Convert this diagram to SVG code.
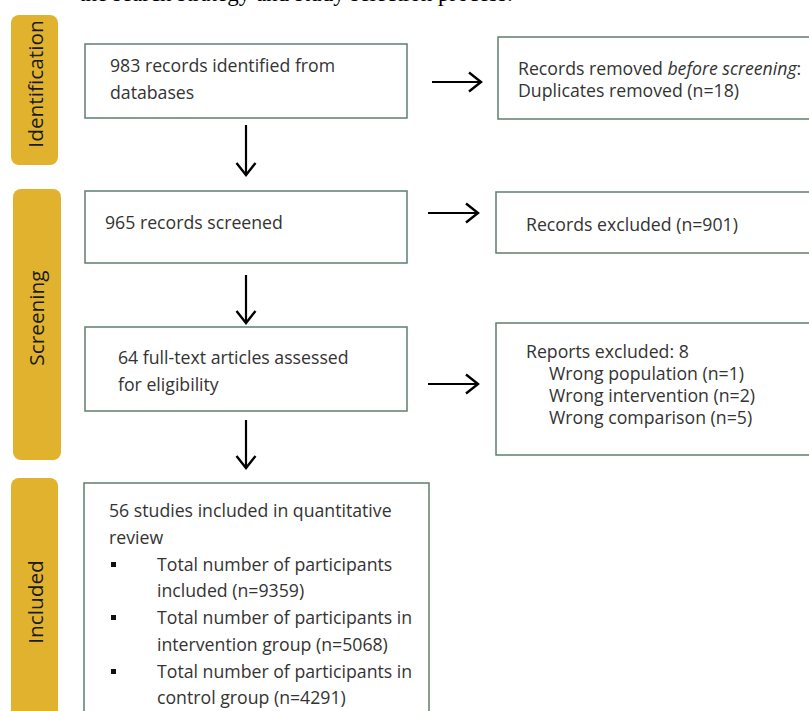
<svg xmlns="http://www.w3.org/2000/svg" width="809" height="711" viewBox="0 0 809 711">
<style>
.bar{fill:#E1B22E;}
.lab{font-family:"Open Sans","Liberation Sans",sans-serif;font-size:20.8px;fill:#1a1a1a;text-anchor:middle;}
.box{fill:#fff;stroke:#5e7f6d;stroke-width:1.5;}
.t{font-family:"Open Sans","Liberation Sans",sans-serif;font-size:17.7px;fill:#333;}
.c{stroke:#000;stroke-width:2.2;fill:none;}
</style>
<defs>
<marker id="ah" markerUnits="userSpaceOnUse" markerWidth="20" markerHeight="24" viewBox="-14 -12 16 24" refX="0" refY="0" orient="auto">
<path d="M-12,-9.5 L0,0 L-12,9.5" fill="none" stroke="#000" stroke-width="2.4"/>
</marker>
</defs>
<rect width="809" height="711" fill="#fff"/>
<text x="79" y="0.5" font-family="'Liberation Serif',serif" font-size="23" fill="#000">the search strategy and study selection process.</text>

<g id="phase-identification">
<rect class="bar" x="11" y="15" width="47" height="150" rx="8"/>
<text class="lab" transform="translate(43,84) rotate(-90)">Identification</text>
</g>
<g id="phase-screening">
<rect class="bar" x="13" y="189" width="48" height="271" rx="8"/>
<text class="lab" transform="translate(44,318) rotate(-90)">Screening</text>
</g>
<g id="phase-included">
<rect class="bar" x="11" y="478" width="47" height="250" rx="8"/>
<text class="lab" transform="translate(43,602) rotate(-90)">Included</text>
</g>

<g id="n-identified">
<rect class="box" x="85" y="44" width="322" height="74"/>
<text class="t" x="110" y="72">983 records identified from</text>
<text class="t" x="110" y="99">databases</text>
</g>
<g id="n-removed">
<rect class="box" x="498" y="37" width="320" height="82"/>
<text class="t" x="518" y="75">Records removed <tspan font-style="italic">before screening</tspan>:</text>
<text class="t" x="518" y="97">Duplicates removed (n=18)</text>
</g>
<g id="n-screened">
<rect class="box" x="85" y="191" width="322" height="72"/>
<text class="t" x="105" y="229">965 records screened</text>
</g>
<g id="n-excluded">
<rect class="box" x="496" y="192" width="320" height="61"/>
<text class="t" x="526" y="231">Records excluded (n=901)</text>
</g>
<g id="n-fulltext">
<rect class="box" x="85" y="327" width="322" height="84"/>
<text class="t" x="118" y="364">64 full-text articles assessed</text>
<text class="t" x="118" y="391">for eligibility</text>
</g>
<g id="n-reports">
<rect class="box" x="496" y="323" width="320" height="132"/>
<text class="t" x="526" y="358">Reports excluded: 8</text>
<text class="t" x="549" y="380">Wrong population (n=1)</text>
<text class="t" x="549" y="402">Wrong intervention (n=2)</text>
<text class="t" x="549" y="424">Wrong comparison (n=5)</text>
</g>
<g id="n-included">
<rect class="box" x="84" y="483" width="345" height="240"/>
<text class="t" x="109" y="517">56 studies included in quantitative</text>
<text class="t" x="109" y="544">review</text>
<rect x="111" y="562" width="5" height="5" fill="#111"/>
<text class="t" x="157" y="571">Total number of participants</text>
<text class="t" x="157" y="597">included (n=9359)</text>
<rect x="111" y="615" width="5" height="5" fill="#111"/>
<text class="t" x="157" y="624">Total number of participants in</text>
<text class="t" x="157" y="651">intervention group (n=5068)</text>
<rect x="111" y="669" width="5" height="5" fill="#111"/>
<text class="t" x="157" y="678">Total number of participants in</text>
<text class="t" x="157" y="704">control group (n=4291)</text>
</g>

<g id="connectors">
<line class="c" x1="246" y1="125" x2="246" y2="175" marker-end="url(#ah)"/>
<line class="c" x1="246" y1="275" x2="246" y2="323" marker-end="url(#ah)"/>
<line class="c" x1="246" y1="420" x2="246" y2="468" marker-end="url(#ah)"/>
<line class="c" x1="432" y1="82" x2="481" y2="82" marker-end="url(#ah)"/>
<line class="c" x1="428" y1="213" x2="478" y2="213" marker-end="url(#ah)"/>
<line class="c" x1="428" y1="384" x2="478" y2="384" marker-end="url(#ah)"/>
</g>
</svg>
